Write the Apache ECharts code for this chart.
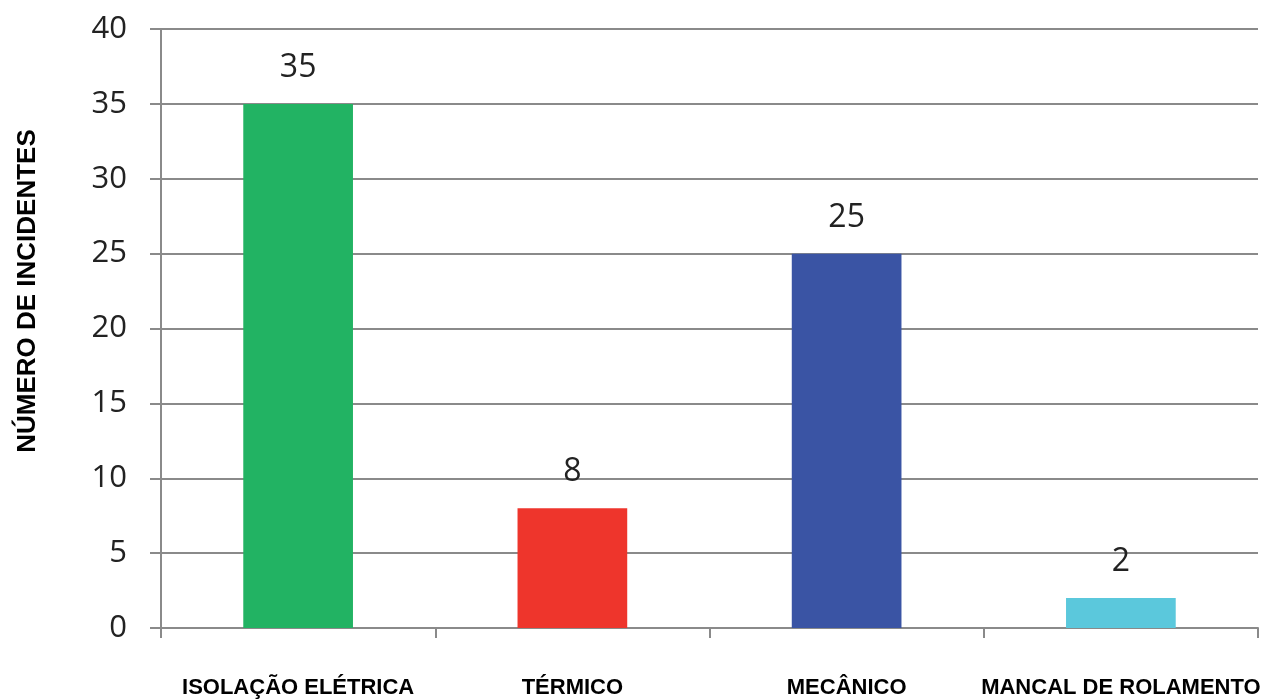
<!DOCTYPE html>
<html><head><meta charset="utf-8">
<script src="https://cdn.jsdelivr.net/npm/echarts@6/dist/echarts.min.js"></script>
<style>html,body{margin:0;padding:0;background:#fff}#c{width:1266px;height:700px}</style>
</head><body><div id="c"></div>
<script>
const categories = ['ISOLAÇÃO ELÉTRICA', 'TÉRMICO', 'MECÂNICO', 'MANCAL DE ROLAMENTO'];
const values = [35, 8, 25, 2];
const barColors = ['#22B363', '#EE352C', '#3A54A4', '#5BC8DC'];
const yTicks = [0, 5, 10, 15, 20, 25, 30, 35, 40];
const yAxisTitle = 'NÚMERO DE INCIDENTES';

const chart = echarts.init(document.getElementById('c'));
chart.setOption({
  animation: false,
  backgroundColor: '#fff',
  grid: { left: 161, right: 8, top: 29, bottom: 72 },
  xAxis: {
    type: 'category', data: categories,
    axisLine: { lineStyle: { color: '#8a8a8a', width: 2 } },
    axisTick: { show: true, length: 10, lineStyle: { color: '#8a8a8a', width: 2 } },
    axisLabel: { margin: 49, color: '#000', fontFamily: 'Liberation Sans', fontWeight: 'bold', fontSize: 22, interval: 0 }
  },
  yAxis: {
    type: 'value', min: yTicks[0], max: yTicks[yTicks.length - 1], interval: 5,
    axisLine: { show: true, lineStyle: { color: '#8a8a8a', width: 2 } },
    axisTick: { show: true, length: 11, lineStyle: { color: '#8a8a8a', width: 2 } },
    splitLine: { lineStyle: { color: '#8a8a8a', width: 2 } },
    axisLabel: { margin: 34, color: '#222', fontFamily: 'Open Sans', fontSize: 31 }
  },
  graphic: [{
    type: 'text', x: 28, y: 291, rotation: Math.PI / 2,
    style: { text: yAxisTitle, fill: '#000', font: 'bold 26px "Liberation Sans"', textAlign: 'center', textVerticalAlign: 'middle' }
  }],
  series: [{
    type: 'bar', barWidth: '40%',
    data: values.map((v, i) => ({ value: v, itemStyle: { color: barColors[i] } })),
    label: { show: true, position: 'top', distance: 20, color: '#222', fontFamily: 'Open Sans', fontSize: 32 }
  }]
});
</script></body></html>
